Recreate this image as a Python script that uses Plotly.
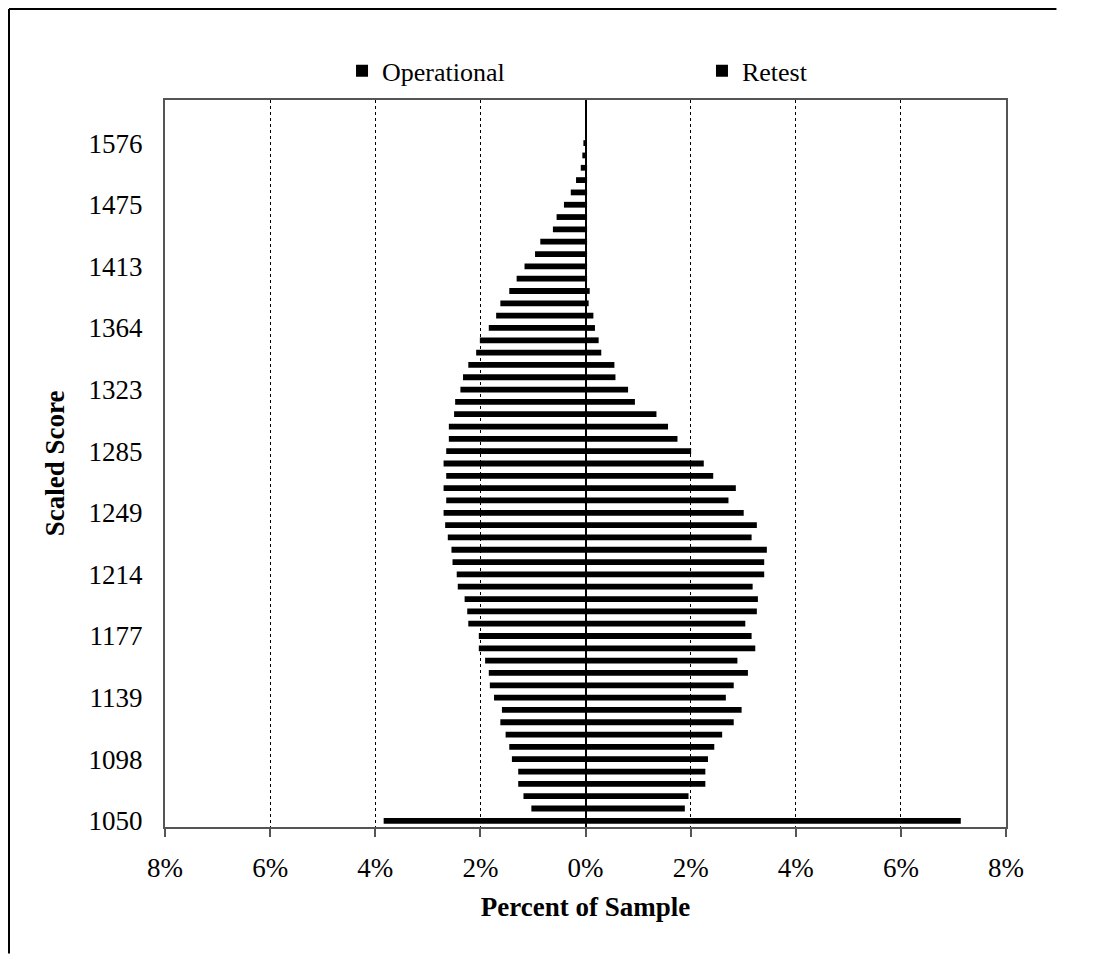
import plotly.graph_objects as go

# Scaled score categories, bottom (1050) to top (1576); unlabeled ones are estimates
scores = [1050, 1068, 1077, 1085, 1092, 1098, 1106, 1114, 1123, 1131,
          1139, 1147, 1154, 1162, 1169, 1177, 1184, 1192, 1199, 1207,
          1214, 1221, 1228, 1235, 1242, 1249, 1256, 1263, 1270, 1278,
          1285, 1293, 1300, 1308, 1315, 1323, 1331, 1339, 1347, 1355,
          1364, 1373, 1383, 1393, 1403, 1413, 1424, 1436, 1449, 1461,
          1475, 1492, 1510, 1530, 1551, 1576]

# Percent of sample, listed top (1576) to bottom (1050)
operational_top_down = [0.04, 0.06, 0.09, 0.18, 0.28, 0.41, 0.55, 0.62, 0.86, 0.96,
                        1.16, 1.31, 1.45, 1.62, 1.70, 1.84, 2.01, 2.08, 2.23, 2.33,
                        2.38, 2.48, 2.50, 2.60, 2.60, 2.65, 2.70, 2.65, 2.70, 2.65,
                        2.70, 2.67, 2.62, 2.55, 2.53, 2.45, 2.43, 2.30, 2.25, 2.23,
                        2.03, 2.03, 1.91, 1.84, 1.82, 1.74, 1.59, 1.62, 1.52, 1.45,
                        1.40, 1.28, 1.28, 1.18, 1.03, 3.84]
retest_top_down = [0.00, 0.00, 0.03, 0.03, 0.03, 0.03, 0.03, 0.03, 0.03, 0.03,
                   0.03, 0.03, 0.08, 0.06, 0.15, 0.18, 0.25, 0.30, 0.55, 0.57,
                   0.81, 0.94, 1.35, 1.57, 1.75, 2.01, 2.25, 2.43, 2.86, 2.72,
                   3.01, 3.26, 3.16, 3.45, 3.40, 3.40, 3.18, 3.28, 3.26, 3.04,
                   3.16, 3.23, 2.89, 3.09, 2.82, 2.67, 2.97, 2.82, 2.60, 2.45,
                   2.33, 2.28, 2.28, 1.96, 1.89, 7.14]

operational = operational_top_down[::-1]
retest = retest_top_down[::-1]

score_labels = [str(s) for s in scores]
y_tick_scores = ["1050", "1098", "1139", "1177", "1214", "1249",
                 "1285", "1323", "1364", "1413", "1475", "1576"]
x_tick_vals = [-8, -6, -4, -2, 0, 2, 4, 6, 8]
x_tick_text = ["8%", "6%", "4%", "2%", "0%", "2%", "4%", "6%", "8%"]

FONT = "Liberation Serif, Times New Roman, serif"

fig = go.Figure()
fig.add_trace(go.Bar(
    y=score_labels, x=[-v for v in operational], orientation="h",
    name="Operational", marker=dict(color="black", line=dict(width=0)),
    width=0.47, legend="legend", showlegend=True,
    customdata=operational, hovertemplate="%{y}: %{customdata:.2f}%<extra>Operational</extra>"))
fig.add_trace(go.Bar(
    y=score_labels, x=retest, orientation="h",
    name="Retest", marker=dict(color="black", line=dict(width=0)),
    width=0.47, legend="legend2", showlegend=True,
    hovertemplate="%{y}: %{x:.2f}%<extra>Retest</extra>"))

frame_line = dict(color="black", width=2)
fig.update_layout(
    width=1083, height=946,
    showlegend=True,
    barmode="overlay",
    paper_bgcolor="white", plot_bgcolor="white",
    font=dict(family=FONT, size=27, color="black"),
    margin=dict(l=157, r=85, t=92, b=127),
    legend=dict(x=0.2105, y=1.040, xanchor="left", yanchor="middle",
                orientation="h", font=dict(size=26), itemwidth=30,
                bgcolor="rgba(0,0,0,0)"),
    legend2=dict(x=0.6385, y=1.040, xanchor="left", yanchor="middle",
                 orientation="h", font=dict(size=26), itemwidth=30,
                 bgcolor="rgba(0,0,0,0)"),
    xaxis=dict(
        range=[-8, 8], tickvals=x_tick_vals, ticktext=x_tick_text,
        showgrid=True, gridcolor="black", gridwidth=1, griddash="dot",
        zeroline=True, zerolinecolor="black", zerolinewidth=1.5,
        showline=True, linecolor="#555555", linewidth=2, mirror=True,
        ticks="outside", ticklen=8, tickcolor="#555555", tickwidth=1.5,
        ticklabelstandoff=8,
        title=dict(text="<b>Percent of Sample</b>", font=dict(size=27), standoff=15),
    ),
    yaxis=dict(
        type="category", categoryorder="array", categoryarray=score_labels,
        range=[-0.5, 58.5], tickvals=y_tick_scores, ticktext=y_tick_scores,
        showgrid=False, zeroline=False,
        showline=True, linecolor="#555555", linewidth=2, mirror=True,
        ticks="", ticklabelstandoff=15,
        title=dict(text="<b>Scaled Score</b>", font=dict(size=27), standoff=16),
    ),
    shapes=[
        dict(type="line", xref="paper", yref="paper",
             x0=-0.1855, x1=1.06, y0=1.1252, y1=1.1252, line=frame_line, layer="above"),
        dict(type="line", xref="paper", yref="paper",
             x0=-0.1855, x1=-0.1855, y0=-0.174, y1=1.1252, line=frame_line, layer="above"),
    ],
)

fig.write_html("out.html")
